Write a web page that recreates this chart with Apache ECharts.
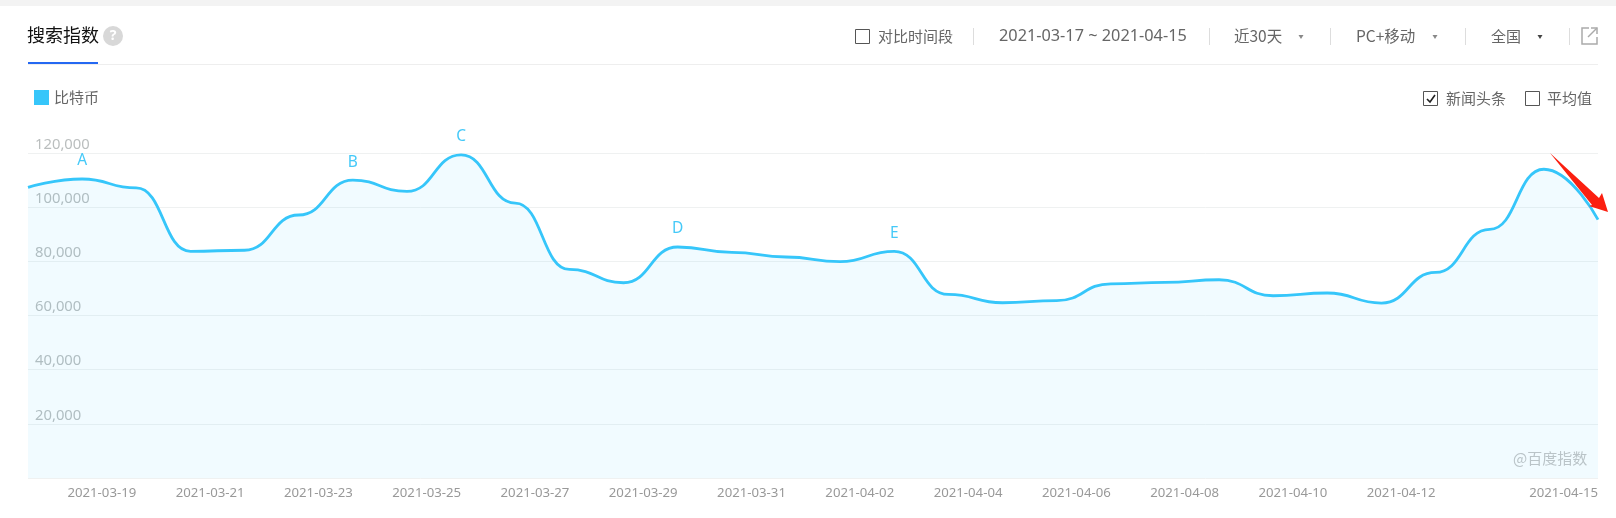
<!DOCTYPE html>
<html><head><meta charset="utf-8">
<style>html,body{margin:0;padding:0;background:#fff}#c{width:1616px;height:518px}</style>
<script src="https://cdn.jsdelivr.net/npm/echarts@6/dist/echarts.min.js"></script>
</head><body><div id="c"></div>
<script>
const dates = ['2021-03-17','2021-03-18','2021-03-19','2021-03-20','2021-03-21','2021-03-22','2021-03-23','2021-03-24','2021-03-25','2021-03-26','2021-03-27','2021-03-28','2021-03-29','2021-03-30','2021-03-31','2021-04-01','2021-04-02','2021-04-03','2021-04-04','2021-04-05','2021-04-06','2021-04-07','2021-04-08','2021-04-09','2021-04-10','2021-04-11','2021-04-12','2021-04-13','2021-04-14','2021-04-15'];
const values = [107300,110400,107100,83700,84100,97100,110000,105800,119300,101500,77000,72100,85300,83300,81600,79900,83700,67800,64700,65500,71700,72200,73200,67300,68300,64600,75900,91800,114000,95400];
const newsMarks = {'2021-03-18':'A','2021-03-23':'B','2021-03-25':'C','2021-03-29':'D','2021-04-02':'E'};
const shownDates = ['2021-03-19','2021-03-21','2021-03-23','2021-03-25','2021-03-27','2021-03-29','2021-03-31','2021-04-02','2021-04-04','2021-04-06','2021-04-08','2021-04-10','2021-04-12','2021-04-15'];
const seriesName = '比特币';
const CJK = '"Noto Sans CJK SC","Noto Sans",sans-serif';
const LAT = '"Noto Sans",sans-serif';
const blue = '#36c6fa';
function T(x,y,text,size,fill,fam){return {type:'text',x:x,y:y,silent:true,style:{text:text,font:size+'px '+(fam||CJK),fill:fill,textVerticalAlign:'middle',textAlign:'left'}};}
function R(x,y,w,h,fill){return {type:'rect',shape:{x:x,y:y,width:w,height:h},silent:true,style:{fill:fill}};}
function Box(x,y){return {type:'rect',shape:{x:x+.5,y:y+.5,width:14,height:14},silent:true,style:{fill:'#fff',stroke:'#555',lineWidth:1}};}
function Tri(x,y,c){return {type:'polygon',shape:{points:[[x-2.5,y-2],[x+2.5,y-2],[x,y+2]]},silent:true,style:{fill:c}};}
function PL(pts,c,w){return {type:'polyline',shape:{points:pts},silent:true,style:{stroke:c,lineWidth:w,fill:'none'}};}
const gfx = [
 R(0,0,1616,6,'#f3f3f3'),
 R(28,64,1570,1,'#eeeeee'),
 R(28,62,70,2,'#2468f2'),
 T(27,35,'搜索指数',18,'#111'),
 {type:'circle',shape:{cx:113,cy:36,r:10},silent:true,style:{fill:'#d8d8d8'}},
 {type:'text',x:113,y:36,silent:true,style:{text:'?',font:'bold 14px "Noto Sans",sans-serif',fill:'#fff',textAlign:'center',textVerticalAlign:'middle'}},
 Box(855,29), T(878,36,'对比时间段',15,'#666'),
 R(973,28,1,17,'#dddddd'),
 T(999,36,'2021-03-17 ~ 2021-04-15',16.3,'#666',LAT),
 R(1209,28,1,17,'#dddddd'),
 T(1234,36,'近30天',15.5,'#666'), Tri(1301,37,'#888'),
 R(1330,28,1,17,'#dddddd'),
 T(1356,36,'PC+移动',15.5,'#666'), Tri(1435,37,'#888'),
 R(1465,28,1,17,'#dddddd'),
 T(1491,36,'全国',15,'#666'), Tri(1540,37,'#444'),
 R(1569,28,1,17,'#dddddd'),
 PL([[1589,28],[1582,28],[1582,44],[1597,44],[1597,37]],'#aaa',1.5),
 PL([[1588,37],[1597,28]],'#aaa',1.5),
 PL([[1591,28],[1597,28],[1597,34]],'#aaa',1.5),
 Box(1423,91),
 PL([[1427,99],[1430,102],[1435,95]],'#222',1.6),
 T(1446,98,'新闻头条',15,'#666'),
 Box(1525,91), T(1547,98,'平均值',15,'#666'),
 T(1513,458,'@百度指数',15,'#c4c4c4'),
 {type:'polygon',z:100,shape:{points:[[1550,153],[1599,198],[1602,193],[1608,212],[1589,206],[1592,205]]},silent:true,style:{fill:'#fb1f10'}}
];
const chart = echarts.init(document.getElementById('c'),null,{renderer:'canvas'});
chart.setOption({
 animation:false,
 backgroundColor:'#fff',
 textStyle:{fontFamily:CJK},
 legend:{left:29,top:85,itemWidth:15,itemHeight:15,itemGap:9,icon:'rect',data:[seriesName],textStyle:{color:'#666',fontSize:15,fontFamily:CJK,padding:[0,0,3,0]}},
 grid:{left:28,right:18,top:153,bottom:40,containLabel:false},
 xAxis:{type:'category',boundaryGap:false,data:dates,
  axisLine:{show:false},axisTick:{show:false},splitLine:{show:false},
  axisLabel:{interval:(i,v)=>shownDates.includes(v),align:'right',hideOverlap:false,margin:9,color:'#999',fontSize:13.2,fontFamily:LAT}},
 yAxis:{type:'value',min:0,max:120000,interval:20000,
  axisLine:{show:false},axisTick:{show:false},
  splitLine:{lineStyle:{color:'#eff1f1',width:1}},
  axisLabel:{inside:true,verticalAlign:'bottom',margin:7,padding:[0,0,1,0],showMinLabel:false,color:'#babebe',fontSize:14.8,fontFamily:LAT,formatter:v=>v.toLocaleString('en-US')}},
 series:[{name:seriesName,type:'line',smooth:0.5,smoothMonotone:'x',symbol:'circle',symbolSize:0,showSymbol:true,showAllSymbol:true,color:blue,
  data:dates.map((d,i)=>newsMarks[d]?{value:values[i],label:{show:true,position:'top',distance:10,formatter:newsMarks[d],color:'#45c9f8',fontSize:15.5,fontFamily:LAT}}:values[i]),
  lineStyle:{color:blue,width:2.8},areaStyle:{color:blue,opacity:0.07}
 }],
 graphic:{elements:gfx}
});
</script></body></html>
